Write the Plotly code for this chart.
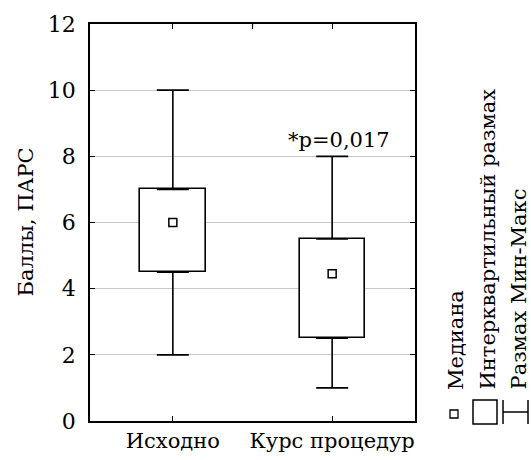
import plotly.graph_objects as go

categories = ["Исходно", "Курс процедур"]
q1 = [4.5, 2.5]
median = [6.0, 4.45]
q3 = [7.0, 5.5]
v_min = [2.0, 1.0]
v_max = [10.0, 8.0]
y_ticks = [0, 2, 4, 6, 8, 10, 12]
y_title = "Баллы, ПАРС"
p_label = "*p=0,017"
legend_labels = ["Медиана", "Интерквартильный размах", "Размах Мин-Макс"]

W, H = 531, 460
L, R, T, B = 90, 116, 24, 39
PW, PH = W - L - R, H - T - B
FONT = "DejaVu Serif"
FS = 21


def px(x):
    return (x - L) / PW


def py(y):
    return (H - B - y) / PH


fig = go.Figure()

# interquartile boxes
fig.add_trace(go.Bar(
    x=categories, y=[b - a for a, b in zip(q1, q3)], base=q1,
    width=0.41, marker=dict(color="white", line=dict(color="black", width=1.6)),
    showlegend=False, hoverinfo="skip"))

# upper whiskers
fig.add_trace(go.Scatter(
    x=categories, y=q3, mode="markers", marker=dict(size=1, color="rgba(0,0,0,0)"),
    error_y=dict(type="data", symmetric=False,
                 array=[b - a for a, b in zip(q3, v_max)], arrayminus=[0, 0],
                 color="black", thickness=1.6, width=16),
    showlegend=False, hoverinfo="skip"))
# lower whiskers
fig.add_trace(go.Scatter(
    x=categories, y=q1, mode="markers", marker=dict(size=1, color="rgba(0,0,0,0)"),
    error_y=dict(type="data", symmetric=False,
                 array=[0, 0], arrayminus=[a - b for a, b in zip(q1, v_min)],
                 color="black", thickness=1.6, width=16),
    showlegend=False, hoverinfo="skip"))
# medians
fig.add_trace(go.Scatter(
    x=categories, y=median, mode="markers",
    marker=dict(symbol="square-open", size=8, color="black", line=dict(width=1.5)),
    showlegend=False, hoverinfo="skip"))

fig.update_xaxes(
    type="category", range=[-0.52, 1.52], showgrid=False,
    showline=True, linecolor="black", linewidth=1.6, mirror="allticks",
    ticks="inside", ticklen=5, tickwidth=1.2, tickcolor="black",
    tickfont=dict(family=FONT, size=FS, color="black"), zeroline=False)
fig.update_yaxes(
    range=[0, 12], tickvals=y_ticks, showgrid=True, gridcolor="#c8c8c8", gridwidth=1,
    showline=True, linecolor="black", linewidth=1.6, mirror="allticks",
    ticks="inside", ticklen=5, tickwidth=1.2, tickcolor="black",
    ticklabelstandoff=8,
    tickfont=dict(family=FONT, size=22, color="black"), zeroline=False)

# middle top tick
fig.add_shape(type="line", xref="x", yref="paper", x0=0.5, x1=0.5,
              y0=1, y1=1 - 5 / PH, line=dict(color="black", width=1.2))

annotations = [
    dict(text=y_title, xref="paper", yref="paper", x=px(25), y=0.5,
         textangle=-90, showarrow=False, xanchor="center", yanchor="middle",
         font=dict(family=FONT, size=FS, color="black")),
    dict(text=p_label, xref="x", yref="y", x=categories[1], y=v_max[1],
         xshift=7, yshift=2, showarrow=False, xanchor="center", yanchor="bottom",
         font=dict(family=FONT, size=FS, color="black")),
]
leg_x = [456, 487, 518]
for lab, xx in zip(legend_labels, leg_x):
    annotations.append(dict(text=lab, xref="paper", yref="paper", x=px(xx), y=py(392),
                            textangle=-90, showarrow=False, xanchor="center",
                            yanchor="bottom", font=dict(family=FONT, size=FS, color="black")))

# legend symbols
shapes = [
    dict(type="rect", xref="paper", yref="paper", x0=px(450), x1=px(458),
         y0=py(418), y1=py(410), line=dict(color="black", width=1.3)),
    dict(type="rect", xref="paper", yref="paper", x0=px(473), x1=px(497),
         y0=py(424), y1=py(400), line=dict(color="black", width=1.5)),
    dict(type="line", xref="paper", yref="paper", x0=px(503), x1=px(503),
         y0=py(424), y1=py(400), line=dict(color="black", width=1.5)),
    dict(type="line", xref="paper", yref="paper", x0=px(503), x1=px(528),
         y0=py(412), y1=py(412), line=dict(color="black", width=1.5)),
    dict(type="line", xref="paper", yref="paper", x0=px(528), x1=px(528),
         y0=py(424), y1=py(400), line=dict(color="black", width=1.5)),
]
for s in shapes:
    fig.add_shape(**s)

fig.update_layout(
    width=W, height=H, margin=dict(l=L, r=R, t=T, b=B, autoexpand=False),
    plot_bgcolor="white", paper_bgcolor="white", annotations=annotations,
    font=dict(family=FONT, color="black"), bargap=0)

fig.write_html("out.html", config={"displayModeBar": False},
               post_script="document.body.style.margin='0';document.body.style.overflow='hidden';")
